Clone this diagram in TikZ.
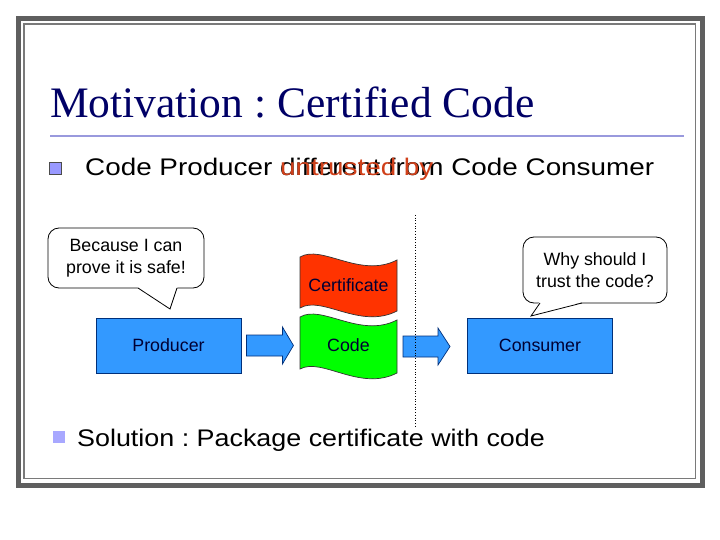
\documentclass[tikz,border=0pt]{standalone}
\usepackage{fontspec}
\setmainfont{Liberation Sans}
\newfontfamily\titlefont{Liberation Serif}
\newfontfamily\bulletfonta[FakeStretch=1.16]{Liberation Sans}
\newfontfamily\bulletfontb[FakeStretch=1.12]{Liberation Sans}
\definecolor{framegray}{HTML}{5F5F5F}
\definecolor{innergray}{HTML}{7A7A7A}
\definecolor{titlenavy}{HTML}{000066}
\definecolor{rulecol}{HTML}{9999DD}
\definecolor{bulletcol}{HTML}{9999FF}
\definecolor{redtext}{HTML}{D0401A}
\definecolor{boxblue}{HTML}{3399FF}
\definecolor{boxedge}{HTML}{00307A}
\definecolor{certred}{HTML}{FF3300}
\definecolor{codegreen}{HTML}{00FF00}
\definecolor{labelnavy}{HTML}{000033}
\frenchspacing
\tikzset{
  txt/.style={inner sep=0pt, outer sep=0pt},
  bubble/.style={draw=black, fill=white, rounded corners=11pt, align=center,
    inner sep=0pt, line width=0.8pt, font=\fontsize{17.8}{21.5}\selectfont},
  agent/.style={draw=boxedge, fill=boxblue, line width=0.9pt, inner sep=0pt,
    minimum width=145pt, minimum height=55pt, text=labelnavy,
    font=\fontsize{17.8}{21}\selectfont},
  flaglabel/.style={inner sep=0pt, text=labelnavy, font=\fontsize{17.8}{21}\selectfont},
  blockarrow/.style={draw=boxedge, fill=boxblue, line width=0.7pt, line join=miter},
  bullettext/.style={inner sep=0pt, anchor=base west}
}
\begin{document}
\begin{tikzpicture}[x=1pt,y=-1pt]
\useasboundingbox (0,0) rectangle (720,540);
\fill[white] (0,0) rectangle (720,540);
% frame
\draw[framegray, line width=5pt] (18.5,18.5) rectangle (702.5,485.5);
\draw[innergray, line width=1.3pt] (24,24) rectangle (695.5,478.5);
% title
\node[txt, anchor=base west, text=titlenavy] (title) at (50,118)
  {\titlefont\fontsize{43.5}{50}\selectfont Motivation : Certified Code};
\draw[rulecol, line width=2pt] (50,136) -- (684,136);
% bullet 1
\node[draw=black!70, fill=bulletcol, line width=0.6pt, minimum size=12pt, inner sep=0pt] (sq1) at (55,168.5) {};
\node[bullettext, font=\bulletfonta\fontsize{24}{28}\selectfont] (b1) at (85,176)
  {Code Producer different from Code Consumer};
\node[bullettext, text=redtext, font=\bulletfonta\fontsize{24}{28}\selectfont] (b1red) at (85,176)
  {\phantom{Code Producer}\ untrusted by};
% speech bubbles
\node[bubble, minimum width=156pt, minimum height=60pt] (say1) at (126,258)
  {Because I can\\prove it is safe!};
\fill[white] (137.5,287) -- (170,309) -- (177.5,287) -- cycle;
\draw[line width=0.8pt] (138,288) -- (170,309) -- (177,288);
\node[bubble, minimum width=144pt, minimum height=66pt] (say2) at (595,270)
  {Why should I\\trust the code?};
\fill[white] (539.5,302) -- (531,316) -- (582.5,302) -- cycle;
\draw[line width=0.8pt] (540,303) -- (531,316) -- (582,303);
% producer / consumer
\node[agent] (prod) at (168.5,345.5) {Producer};
\node[agent] (cons) at (540,345.5) {Consumer};
% flags
\draw[fill=certred, draw=black!80, line width=0.7pt]
  (300,257) .. controls (322,244) and (360,279) .. (397,260)
  -- (397,311) .. controls (360,330) and (322,295) .. (300,308) -- cycle;
\node[flaglabel] (cert) at (348.5,285) {Certificate};
\draw[fill=codegreen, draw=black!80, line width=0.7pt]
  (300,317) .. controls (322,304) and (360,339) .. (397,320)
  -- (397,373) .. controls (360,392) and (322,357) .. (300,369) -- cycle;
\node[flaglabel] (code) at (348.5,345.5) {Code};
% block arrows
\draw[blockarrow] ([xshift=5pt]prod.east) ++(0,-10.5) -- ++(36,0) -- ++(0,-8)
  -- ++(11,18.5) -- ++(-11,18.5) -- ++(0,-8) -- ++(-36,0) -- cycle;
\coordinate (a2) at (403,346.5);
\draw[blockarrow] (a2) ++(0,-10.5) -- ++(35,0) -- ++(0,-8)
  -- ++(12,18.5) -- ++(-12,18.5) -- ++(0,-8) -- ++(-35,0) -- cycle;
% trust boundary
\draw[dotted, line width=0.7pt] (415,215) -- (415,426);
% bullet 2
\node[fill=bulletcol!85, minimum size=12pt, inner sep=0pt] (sq2) at (59,437) {};
\node[bullettext, font=\bulletfontb\fontsize{24}{28}\selectfont] (b2) at (77,446)
  {Solution : Package certificate with code};
\end{tikzpicture}
\end{document}
